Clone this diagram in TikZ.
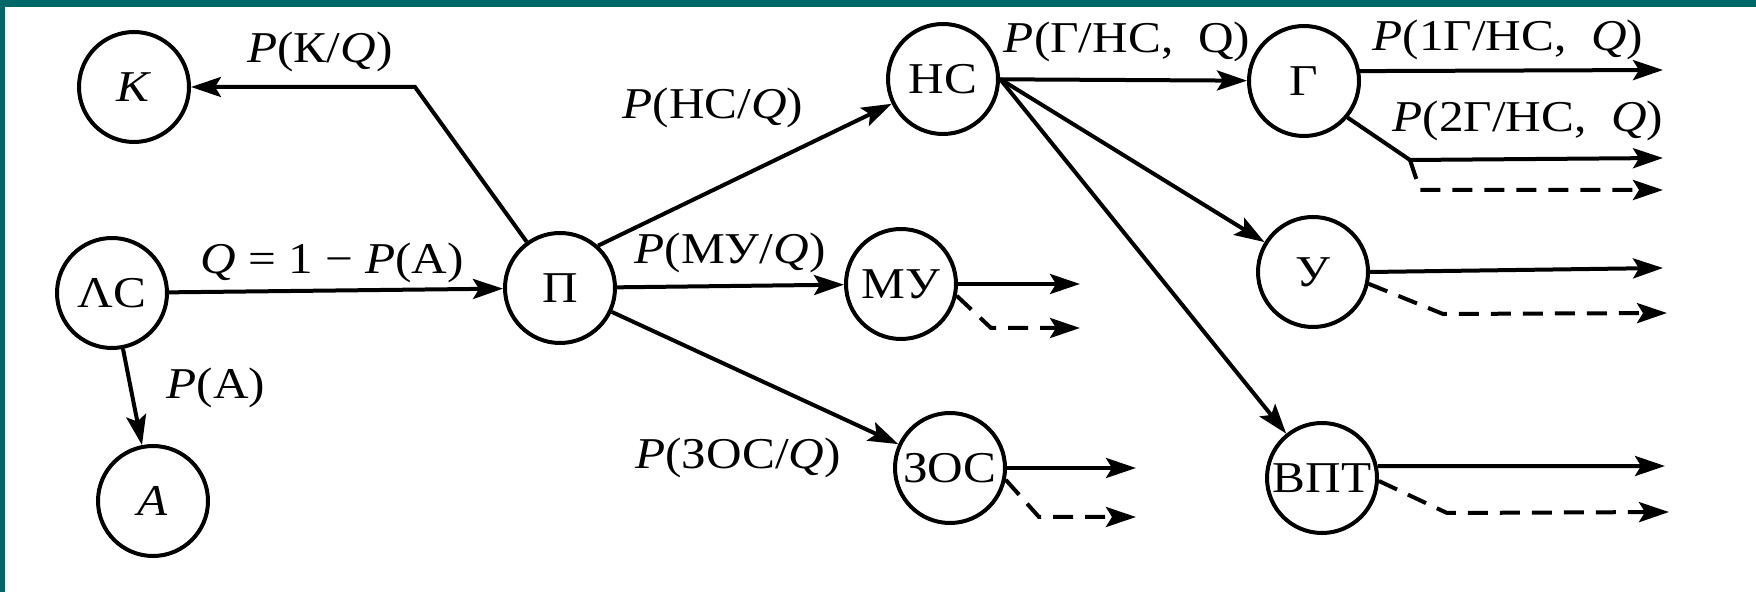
\documentclass[tikz,border=0pt]{standalone}
\usepackage{fontspec}
\setmainfont{Liberation Serif}
\usepackage{graphicx}
\usetikzlibrary{arrows.meta}
\definecolor{frame}{RGB}{0,104,104}
\newcommand{\sx}[1]{\scalebox{1.12}[1]{#1}}
\tikzset{
  st/.style={circle, draw, line width=2pt, minimum size=55pt, inner sep=0pt, font=\fontsize{22}{25}\selectfont},
  lab/.style={inner sep=0pt, font=\fontsize{22}{25}\selectfont},
  con/.style={line width=2pt, -{Stealth[length=15pt,width=10pt,inset=3pt]}},
  dsh/.style={con, dash pattern=on 10pt off 6pt}
}
\begin{document}
\begin{tikzpicture}[x=0.5pt,y=-0.5pt]
\useasboundingbox (0,0) rectangle (1756,592);
\fill[frame] (0,0) rectangle (1756,592);
\fill[white] (5,7) rectangle (1756,592);

\node[st] (K) at (134,87) {\sx{\textit{K}}};
\node[st] (LC) at (112,293) {\sx{ΛС}};
\node[st] (A) at (153,501) {\sx{\textit{A}}};
\node[st] (P) at (560,288) {\sx{П}};
\node[st] (NS) at (943,79) {\sx{НС}};
\node[st] (MU) at (901,284) {\sx{МУ}};
\node[st] (ZOS) at (950,468) {\sx{ЗОС}};
\node[st] (G) at (1304,81) {\sx{Г}};
\node[st] (U) at (1313,272) {\sx{У}};
\node[st] (VPT) at (1322,478) {\sx{ВПТ}};

\coordinate (kc) at (415,87);
\coordinate (mu1) at (1080,284);
\coordinate (mu2c) at (991,328);
\coordinate (mu2) at (1080,328);
\coordinate (z1) at (1136,468);
\coordinate (z2c) at (1039,517);
\coordinate (z2) at (1136,517);
\coordinate (g1) at (1663,70);
\coordinate (g2c) at (1410,160);
\coordinate (g2) at (1663,158);
\coordinate (g3c) at (1420,190);
\coordinate (g3) at (1663,190);
\coordinate (u1) at (1663,268);
\coordinate (u2c) at (1443,314);
\coordinate (u2) at (1667,313);
\coordinate (v1) at (1665,466);
\coordinate (v2c) at (1447,513);
\coordinate (v2) at (1669,512);

\draw[con] (P) -- (kc) -- (K);
\draw[con] (LC) -- (P);
\draw[con] (LC) -- (A);
\draw[con] (P.48) -- (NS);
\draw[con] (P) -- (MU);
\draw[con] (P) -- (ZOS);
\draw[con] (NS) -- (G);
\draw[con] (NS.east) -- (U);
\draw[con] (NS.east) -- (VPT);
\draw[con] (MU.east) -- (mu1);
\draw[dsh] (MU.-12) -- (mu2c) -- (mu2);
\draw[con] (ZOS.east) -- (z1);
\draw[dsh] (ZOS.-12) -- (z2c) -- (z2);
\draw[con] (G.10) -- (g1);
\draw[con] (G.-40) -- (g2c) -- (g2);
\draw[dsh] (g2c) -- (g3c) -- (g3);
\draw[con] (U.east) -- (u1);
\draw[dsh] (U.-12) -- (u2c) -- (u2);
\draw[con] (VPT.12) -- (v1);
\draw[dsh] (VPT.-3) -- (v2c) -- (v2);

\node[lab] (lK) at (320,52) {\sx{\textit{P}(К/\textit{Q})}};
\node[lab] (lQ) at (332,263) {\sx{\textit{Q} = 1 − \textit{P}(А)}};
\node[lab] (lA) at (216,388) {\sx{\textit{P}(А)}};
\node[lab] (lNS) at (713,108) {\sx{\textit{P}(НС/\textit{Q})}};
\node[lab] (lMU) at (730,253) {\sx{\textit{P}(МУ/\textit{Q})}};
\node[lab] (lZ) at (738,458) {\sx{\textit{P}(ЗОС/\textit{Q})}};
\node[lab] (lG) at (1127,42) {\sx{\textit{P}(Г/НС,\ \ Q)}};
\node[lab] (lG1) at (1508,40) {\sx{\textit{P}(1Г/НС,\ \ \textit{Q})}};
\node[lab] (lG2) at (1528,121) {\sx{\textit{P}(2Г/НС,\ \ \textit{Q})}};
\end{tikzpicture}
\end{document}
